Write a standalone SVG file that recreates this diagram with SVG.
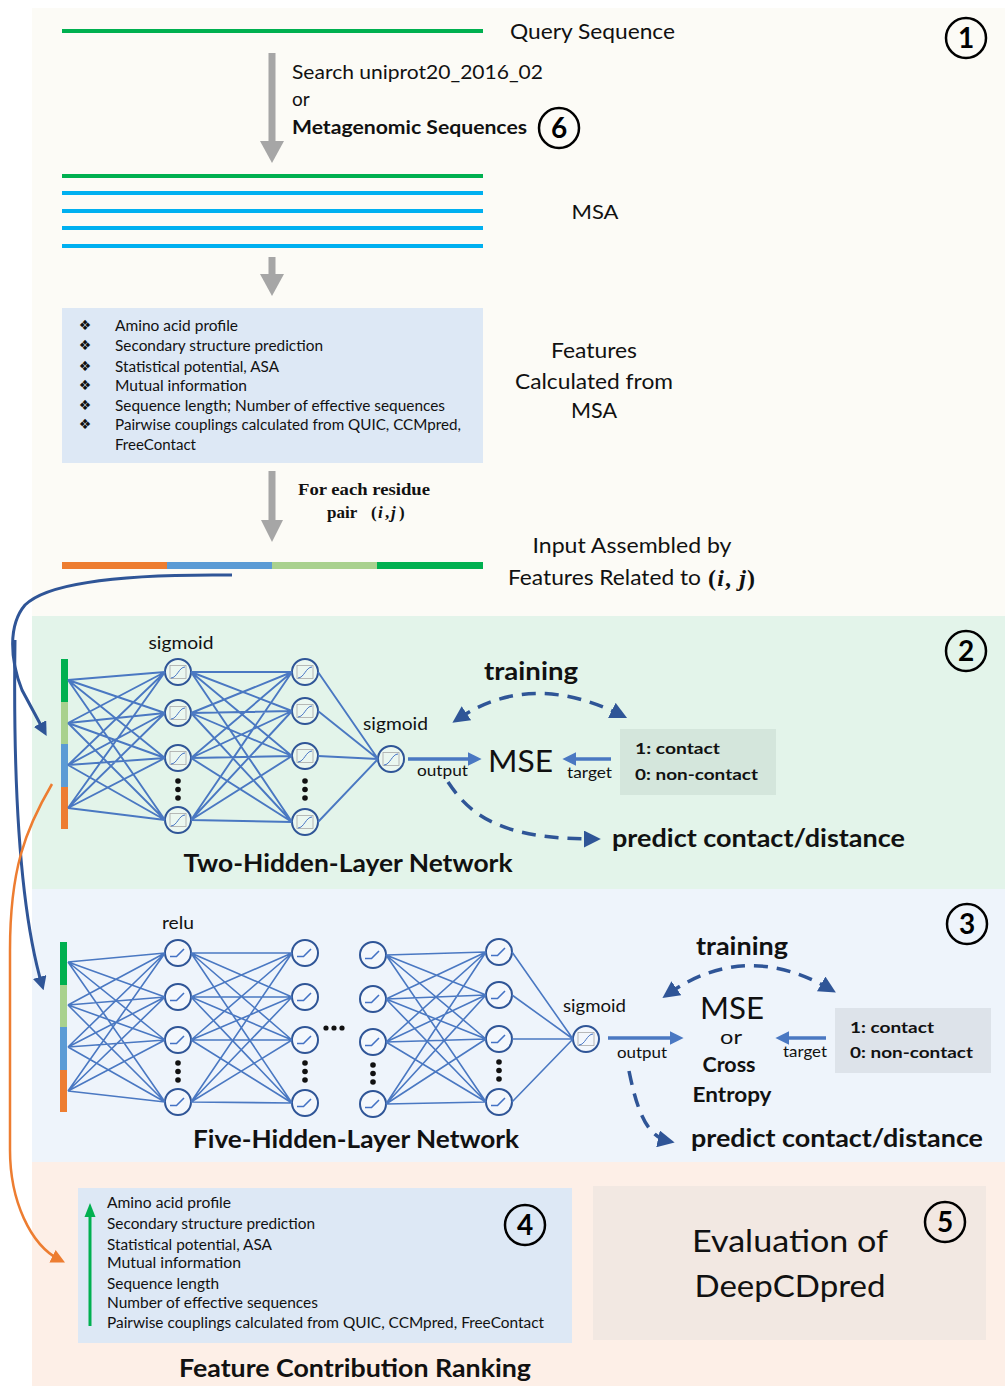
<svg xmlns="http://www.w3.org/2000/svg" width="1005" height="1386" viewBox="0 0 1005 1386">
<defs>
<style>
.t{font-family:Lato,"Liberation Sans",sans-serif;fill:#111}
.b{font-weight:bold}
.m{text-anchor:middle}
.edge{stroke:#4a78c2;stroke-width:1.9;fill:none}
.edge3{stroke:#4a78c2;stroke-width:1.6;fill:none}
.dash{stroke:#2f5597;stroke-width:3.5;fill:none;stroke-dasharray:14 9}
.flow{stroke:#4a78c2;stroke-width:3.5;fill:none}
.num{font-family:Lato,"Liberation Sans",sans-serif;font-weight:bold;font-size:28px;text-anchor:middle;fill:#000}
.ring{fill:none;stroke:#000;stroke-width:2.5}
.gray{fill:#a6a6a6}
.serif{font-family:"Liberation Serif",serif;font-weight:bold;font-size:17px;fill:#111}
</style>
<marker id="dk" viewBox="0 0 10 10" refX="6" refY="5" markerWidth="17" markerHeight="17" markerUnits="userSpaceOnUse" orient="auto-start-reverse"><path d="M0,0L10,5L0,10z" fill="#2f5597"/></marker>
<marker id="bl" viewBox="0 0 10 10" refX="6" refY="5" markerWidth="14" markerHeight="14" markerUnits="userSpaceOnUse" orient="auto"><path d="M0,0L10,5L0,10z" fill="#4a78c2"/></marker>
<marker id="cv" viewBox="0 0 10 10" refX="6" refY="5" markerWidth="14" markerHeight="14" markerUnits="userSpaceOnUse" orient="auto"><path d="M0,0L10,5L0,10z" fill="#2f5597"/></marker>
<marker id="or" viewBox="0 0 10 10" refX="6" refY="5" markerWidth="14" markerHeight="14" markerUnits="userSpaceOnUse" orient="auto"><path d="M0,0L10,5L0,10z" fill="#ed7d31"/></marker>
<g id="sig"><circle r="13" fill="#ffffff" fill-opacity="0.3" stroke="#2f5597" stroke-width="2"/><rect x="-8" y="-6.5" width="16" height="13" fill="none" stroke="#a8a8a8" stroke-width="0.8"/><path d="M-7,6C-1,6 1,-5 7,-5" fill="none" stroke="#4472c4" stroke-width="1"/></g>
<g id="relu"><circle r="13" fill="#ffffff" fill-opacity="0.3" stroke="#2f5597" stroke-width="2"/><path d="M-8,3.5H-1.5L6,-4" fill="none" stroke="#4472c4" stroke-width="1.6"/></g>
<g id="vdots" fill="#111"><circle cy="0" r="2.8"/><circle cy="8.5" r="2.8"/><circle cy="17" r="2.8"/></g>
</defs>

<!-- panel backgrounds -->
<rect x="0" y="0" width="1005" height="1386" fill="#ffffff"/>
<rect x="32" y="8" width="973" height="608" fill="#fcfbf6"/>
<rect x="32" y="616" width="973" height="273" fill="#e3f4ea"/>
<rect x="32" y="889" width="973" height="273" fill="#eef4fb"/>
<rect x="32" y="1162" width="973" height="224" fill="#fdefe7"/>

<!-- step 1: sequence search and feature extraction -->
<g id="query">
<rect x="62" y="29" width="421" height="4" fill="#00b050"/>
<text class="t" x="510" y="39" font-size="21" textLength="165" lengthAdjust="spacingAndGlyphs">Query Sequence</text>
</g>
<g id="search-label">
<text class="t" x="292" y="79" font-size="19" textLength="251" lengthAdjust="spacingAndGlyphs">Search uniprot20_2016_02</text>
<text class="t" x="292" y="106" font-size="19">or</text>
<text class="t b" x="292" y="134" font-size="19" textLength="235" lengthAdjust="spacingAndGlyphs">Metagenomic Sequences</text>
</g>
<g id="msa">
<rect x="62" y="174" width="421" height="4" fill="#00b050"/>
<rect x="62" y="191" width="421" height="4" fill="#00b0f0"/>
<rect x="62" y="209" width="421" height="4" fill="#00b0f0"/>
<rect x="62" y="226" width="421" height="4" fill="#00b0f0"/>
<rect x="62" y="244" width="421" height="4" fill="#00b0f0"/>
<text class="t m" x="595" y="219" font-size="20" textLength="47" lengthAdjust="spacingAndGlyphs">MSA</text>
</g>
<g id="features">
<rect x="62" y="308" width="421" height="155" fill="#dde8f5"/>
<g font-family="'DejaVu Sans',sans-serif" font-size="14" text-anchor="middle" fill="#111">
<text x="85" y="330">❖</text><text x="85" y="350">❖</text><text x="85" y="371">❖</text>
<text x="85" y="390">❖</text><text x="85" y="410">❖</text><text x="85" y="429">❖</text>
</g>
<g class="t" font-size="14.5">
<text class="t" x="115" y="331" textLength="123" lengthAdjust="spacingAndGlyphs">Amino acid profile</text>
<text class="t" x="115" y="351" textLength="208" lengthAdjust="spacingAndGlyphs">Secondary structure prediction</text>
<text class="t" x="115" y="372" textLength="164" lengthAdjust="spacingAndGlyphs">Statistical potential, ASA</text>
<text class="t" x="115" y="391" textLength="132" lengthAdjust="spacingAndGlyphs">Mutual information</text>
<text class="t" x="115" y="411" textLength="330" lengthAdjust="spacingAndGlyphs">Sequence length; Number of effective sequences</text>
<text class="t" x="115" y="430" textLength="346" lengthAdjust="spacingAndGlyphs">Pairwise couplings calculated from QUIC, CCMpred,</text>
<text class="t" x="115" y="450" textLength="81" lengthAdjust="spacingAndGlyphs">FreeContact</text>
</g>
<text class="t m" x="594" y="358" font-size="21" textLength="86" lengthAdjust="spacingAndGlyphs">Features</text>
<text class="t m" x="594" y="389" font-size="21" textLength="158" lengthAdjust="spacingAndGlyphs">Calculated from</text>
<text class="t m" x="594" y="418" font-size="21" textLength="46" lengthAdjust="spacingAndGlyphs">MSA</text>
</g>
<g id="pair-label">
<text class="serif" x="364" y="495" text-anchor="middle" textLength="132" lengthAdjust="spacingAndGlyphs">For each residue</text>
<text class="serif" x="327" y="518">pair</text>
<text class="serif" y="518" font-size="18"><tspan x="371">(</tspan><tspan x="378" font-style="italic">i</tspan><tspan x="385">,</tspan><tspan x="391" font-style="italic">j</tspan><tspan x="399">)</tspan></text>
</g>
<g id="input-vector">
<rect x="62" y="562" width="105" height="7" fill="#ed7d31"/>
<rect x="167" y="562" width="105" height="7" fill="#5b9bd5"/>
<rect x="272" y="562" width="105" height="7" fill="#a9d18e"/>
<rect x="377" y="562" width="106" height="7" fill="#00b050"/>
<text class="t m" x="632" y="553" font-size="21" textLength="199" lengthAdjust="spacingAndGlyphs">Input Assembled by</text>
<text class="t" x="508" y="585" font-size="21" textLength="193" lengthAdjust="spacingAndGlyphs">Features Related to</text>
<text x="708" y="586" font-family="'Liberation Serif',serif" font-weight="bold" font-size="24" fill="#111" textLength="47" lengthAdjust="spacing"><tspan>(</tspan><tspan font-style="italic">i</tspan><tspan>, </tspan><tspan font-style="italic">j</tspan><tspan>)</tspan></text>
</g>
<g id="step1-badge"><circle class="ring" cx="966" cy="38" r="20"/><text class="num" x="966" y="48">1</text></g>
<g id="step6-badge"><circle class="ring" cx="559" cy="128" r="20"/><text class="num" x="559" y="138">6</text></g>

<!-- step 2: two-hidden-layer network -->
<g id="net2-input">
<rect x="61" y="659" width="7" height="43" fill="#00b050"/>
<rect x="61" y="702" width="7" height="42" fill="#a9d18e"/>
<rect x="61" y="744" width="7" height="43" fill="#5b9bd5"/>
<rect x="61" y="787" width="7" height="42" fill="#ed7d31"/>
</g>
<g id="net2-hidden1">
<use href="#sig" x="178" y="672"/><use href="#sig" x="178" y="713"/><use href="#sig" x="178" y="758"/><use href="#sig" x="178" y="820"/>
<use href="#vdots" x="178" y="781"/>
<text class="t m" x="181" y="649" font-size="18" textLength="65" lengthAdjust="spacingAndGlyphs">sigmoid</text>
</g>
<g id="net2-hidden2">
<use href="#sig" x="305" y="672"/><use href="#sig" x="305" y="711"/><use href="#sig" x="305" y="756"/><use href="#sig" x="305" y="822"/>
<use href="#vdots" x="305" y="781"/>
</g>
<g id="net2-output">
<use href="#sig" x="391" y="759"/>
<text class="t" x="363" y="730" font-size="18" textLength="65" lengthAdjust="spacingAndGlyphs">sigmoid</text>
<text class="t" x="417" y="776" font-size="15" textLength="51" lengthAdjust="spacingAndGlyphs">output</text>
</g>
<g id="net2-loss">
<text class="t" x="488" y="772" font-size="31" textLength="65" lengthAdjust="spacingAndGlyphs">MSE</text>
<text class="t" x="567" y="778" font-size="15" textLength="45" lengthAdjust="spacingAndGlyphs">target</text>
</g>
<g id="net2-target">
<rect x="620" y="729" width="156" height="66" fill="#d4e6dc"/>
<text class="t b" x="635" y="754" font-size="16" textLength="85" lengthAdjust="spacingAndGlyphs">1: contact</text>
<text class="t b" x="635" y="780" font-size="16" textLength="123" lengthAdjust="spacingAndGlyphs">0: non-contact</text>
</g>
<g id="net2-labels">
<text class="t b m" x="531" y="680" font-size="24" textLength="94" lengthAdjust="spacingAndGlyphs">training</text>
<text class="t b" x="612" y="847" font-size="24" textLength="293" lengthAdjust="spacingAndGlyphs">predict contact/distance</text>
<text class="t b m" x="348" y="872" font-size="24" textLength="329" lengthAdjust="spacingAndGlyphs">Two-Hidden-Layer Network</text>
</g>
<g id="step2-badge"><circle class="ring" cx="966" cy="651" r="20"/><text class="num" x="966" y="661">2</text></g>

<!-- step 3: five-hidden-layer network -->
<g id="net5-input">
<rect x="60" y="942" width="7" height="43" fill="#00b050"/>
<rect x="60" y="985" width="7" height="42" fill="#a9d18e"/>
<rect x="60" y="1027" width="7" height="43" fill="#5b9bd5"/>
<rect x="60" y="1070" width="7" height="42" fill="#ed7d31"/>
</g>
<g id="net5-hidden1">
<use href="#relu" x="178" y="953"/><use href="#relu" x="178" y="997"/><use href="#relu" x="178" y="1040"/><use href="#relu" x="178" y="1102"/>
<use href="#vdots" x="178" y="1063"/>
<text class="t m" x="178" y="929" font-size="18" textLength="32" lengthAdjust="spacingAndGlyphs">relu</text>
</g>
<g id="net5-hidden2">
<use href="#relu" x="305" y="953"/><use href="#relu" x="305" y="997"/><use href="#relu" x="305" y="1040"/><use href="#relu" x="305" y="1103"/>
<use href="#vdots" x="305" y="1063"/>
</g>
<g id="net5-ellipsis" fill="#111"><circle cx="326" cy="1028" r="2.6"/><circle cx="334" cy="1028" r="2.6"/><circle cx="342" cy="1028" r="2.6"/></g>
<g id="net5-hidden4">
<use href="#relu" x="373" y="955"/><use href="#relu" x="373" y="999"/><use href="#relu" x="373" y="1042"/><use href="#relu" x="373" y="1104"/>
<use href="#vdots" x="373" y="1065"/>
</g>
<g id="net5-hidden5">
<use href="#relu" x="499" y="952"/><use href="#relu" x="499" y="995"/><use href="#relu" x="499" y="1039"/><use href="#relu" x="499" y="1102"/>
<use href="#vdots" x="499" y="1062"/>
</g>
<g id="net5-output">
<use href="#sig" x="586" y="1039"/>
<text class="t" x="563" y="1012" font-size="18" textLength="63" lengthAdjust="spacingAndGlyphs">sigmoid</text>
<text class="t" x="617" y="1058" font-size="15" textLength="50" lengthAdjust="spacingAndGlyphs">output</text>
</g>
<g id="net5-loss">
<text class="t m" x="732" y="1019" font-size="30" textLength="64" lengthAdjust="spacingAndGlyphs">MSE</text>
<text class="t m" x="731" y="1044" font-size="20" textLength="22" lengthAdjust="spacingAndGlyphs">or</text>
<text class="t b m" x="729" y="1072" font-size="21" textLength="53" lengthAdjust="spacingAndGlyphs">Cross</text>
<text class="t b m" x="732" y="1102" font-size="21" textLength="79" lengthAdjust="spacingAndGlyphs">Entropy</text>
<text class="t" x="783" y="1057" font-size="15" textLength="44" lengthAdjust="spacingAndGlyphs">target</text>
</g>
<g id="net5-target">
<rect x="835" y="1008" width="156" height="65" fill="#dde3ea"/>
<text class="t b" x="850" y="1033" font-size="16" textLength="84" lengthAdjust="spacingAndGlyphs">1: contact</text>
<text class="t b" x="850" y="1058" font-size="16" textLength="123" lengthAdjust="spacingAndGlyphs">0: non-contact</text>
</g>
<g id="net5-labels">
<text class="t b m" x="742" y="955" font-size="24" textLength="92" lengthAdjust="spacingAndGlyphs">training</text>
<text class="t b" x="691" y="1147" font-size="24" textLength="292" lengthAdjust="spacingAndGlyphs">predict contact/distance</text>
<text class="t b m" x="356" y="1148" font-size="24" textLength="326" lengthAdjust="spacingAndGlyphs">Five-Hidden-Layer Network</text>
</g>
<g id="step3-badge"><circle class="ring" cx="967" cy="924" r="20"/><text class="num" x="967" y="934">3</text></g>

<!-- step 4: feature ranking, step 5: evaluation -->
<g id="ranking">
<rect x="78" y="1188" width="494" height="155" fill="#dde8f5"/>
<line x1="90" y1="1326" x2="90" y2="1214" stroke="#00b050" stroke-width="3"/>
<path d="M84.5,1217L95.5,1217L90,1203z" fill="#00b050"/>
<g class="t" font-size="14.5">
<text class="t" x="107" y="1208" textLength="124" lengthAdjust="spacingAndGlyphs">Amino acid profile</text>
<text class="t" x="107" y="1229" textLength="208" lengthAdjust="spacingAndGlyphs">Secondary structure prediction</text>
<text class="t" x="107" y="1250" textLength="165" lengthAdjust="spacingAndGlyphs">Statistical potential, ASA</text>
<text class="t" x="107" y="1268" textLength="134" lengthAdjust="spacingAndGlyphs">Mutual information</text>
<text class="t" x="107" y="1289" textLength="112" lengthAdjust="spacingAndGlyphs">Sequence length</text>
<text class="t" x="107" y="1308" textLength="211" lengthAdjust="spacingAndGlyphs">Number of effective sequences</text>
<text class="t" x="107" y="1328" textLength="437" lengthAdjust="spacingAndGlyphs">Pairwise couplings calculated from QUIC, CCMpred,  FreeContact</text>
</g>
<text class="t b m" x="355" y="1377" font-size="24" textLength="352" lengthAdjust="spacingAndGlyphs">Feature Contribution Ranking</text>
</g>
<g id="step4-badge"><circle class="ring" cx="525" cy="1225" r="20"/><text class="num" x="525" y="1235">4</text></g>
<g id="evaluation">
<rect x="593" y="1186" width="393" height="154" fill="#f2e8e2"/>
<text class="t m" x="790" y="1252" font-size="31" textLength="196" lengthAdjust="spacingAndGlyphs">Evaluation of</text>
<text class="t m" x="790" y="1297" font-size="31" textLength="191" lengthAdjust="spacingAndGlyphs">DeepCDpred</text>
</g>
<g id="step5-badge"><circle class="ring" cx="945" cy="1222" r="20"/><text class="num" x="945" y="1232">5</text></g>

<!-- connectors -->
<g id="connectors">
<!-- pipeline arrows -->
<rect class="gray" x="268.5" y="53" width="7" height="89"/><path class="gray" d="M260,141L284,141L272,163z"/>
<rect class="gray" x="268.5" y="257" width="7" height="18"/><path class="gray" d="M260,274L284,274L272,296z"/>
<rect class="gray" x="268.5" y="471" width="7" height="50"/><path class="gray" d="M261,520L283,520L272,542z"/>
<!-- input vector fed to both networks -->
<path d="M232,575C140,574 50,580 25,605C8,625 10,660 22,690L44,731" stroke="#2f5597" stroke-width="3" fill="none" marker-end="url(#cv)"/>
<path d="M15,640C13,780 20,910 42,985" stroke="#2f5597" stroke-width="3" fill="none" marker-end="url(#cv)"/>
<!-- trained network fed to feature ranking -->
<path d="M52,784C25,830 10,870 10,950L10,1150C10,1200 30,1245 60,1260" stroke="#ed7d31" stroke-width="2.5" fill="none" marker-end="url(#or)"/>
<!-- two-hidden-layer network edges -->
<path class="edge" d="M68,680L165,672M68,680L165,713M68,680L165,758M68,680L165,820M68,723L165,672M68,723L165,713M68,723L165,758M68,723L165,820M68,765L165,672M68,765L165,713M68,765L165,758M68,765L165,820M68,808L165,672M68,808L165,713M68,808L165,758M68,808L165,820"/>
<path class="edge" d="M191,672L292,672M191,672L292,711M191,672L292,756M191,672L292,822M191,713L292,672M191,713L292,711M191,713L292,756M191,713L292,822M191,758L292,672M191,758L292,711M191,758L292,756M191,758L292,822M191,820L292,672M191,820L292,711M191,820L292,756M191,820L292,822"/>
<path class="edge" d="M318,672L378,759M318,711L378,759M318,756L378,759M318,822L378,759"/>
<line class="flow" x1="408" y1="759" x2="476" y2="759" marker-end="url(#bl)"/>
<line class="flow" x1="611" y1="759" x2="568" y2="759" marker-end="url(#bl)"/>
<path class="dash" d="M458,719Q530,670 621,715" marker-start="url(#dk)" marker-end="url(#dk)"/>
<path class="dash" d="M448,782C470,815 500,839 594,839" marker-end="url(#dk)"/>
<!-- five-hidden-layer network edges -->
<path class="edge3" d="M68,962L165,953M68,962L165,997M68,962L165,1040M68,962L165,1102M68,1005L165,953M68,1005L165,997M68,1005L165,1040M68,1005L165,1102M68,1047L165,953M68,1047L165,997M68,1047L165,1040M68,1047L165,1102M68,1091L165,953M68,1091L165,997M68,1091L165,1040M68,1091L165,1102"/>
<path class="edge3" d="M191,953L292,953M191,953L292,997M191,953L292,1040M191,953L292,1103M191,997L292,953M191,997L292,997M191,997L292,1040M191,997L292,1103M191,1040L292,953M191,1040L292,997M191,1040L292,1040M191,1040L292,1103M191,1102L292,953M191,1102L292,997M191,1102L292,1040M191,1102L292,1103"/>
<path class="edge3" d="M386,955L486,952M386,955L486,995M386,955L486,1039M386,955L486,1102M386,999L486,952M386,999L486,995M386,999L486,1039M386,999L486,1102M386,1042L486,952M386,1042L486,995M386,1042L486,1039M386,1042L486,1102M386,1104L486,952M386,1104L486,995M386,1104L486,1039M386,1104L486,1102"/>
<path class="edge3" d="M512,952L573,1039M512,995L573,1039M512,1039L573,1039M512,1102L573,1039"/>
<line class="flow" x1="608" y1="1038" x2="678" y2="1038" marker-end="url(#bl)"/>
<line class="flow" x1="826" y1="1038" x2="781" y2="1038" marker-end="url(#bl)"/>
<path class="dash" d="M668,994Q745,940 830,989" marker-start="url(#dk)" marker-end="url(#dk)"/>
<path class="dash" d="M629,1071C636,1105 645,1136 668,1141" marker-end="url(#dk)"/>
</g>
</svg>
